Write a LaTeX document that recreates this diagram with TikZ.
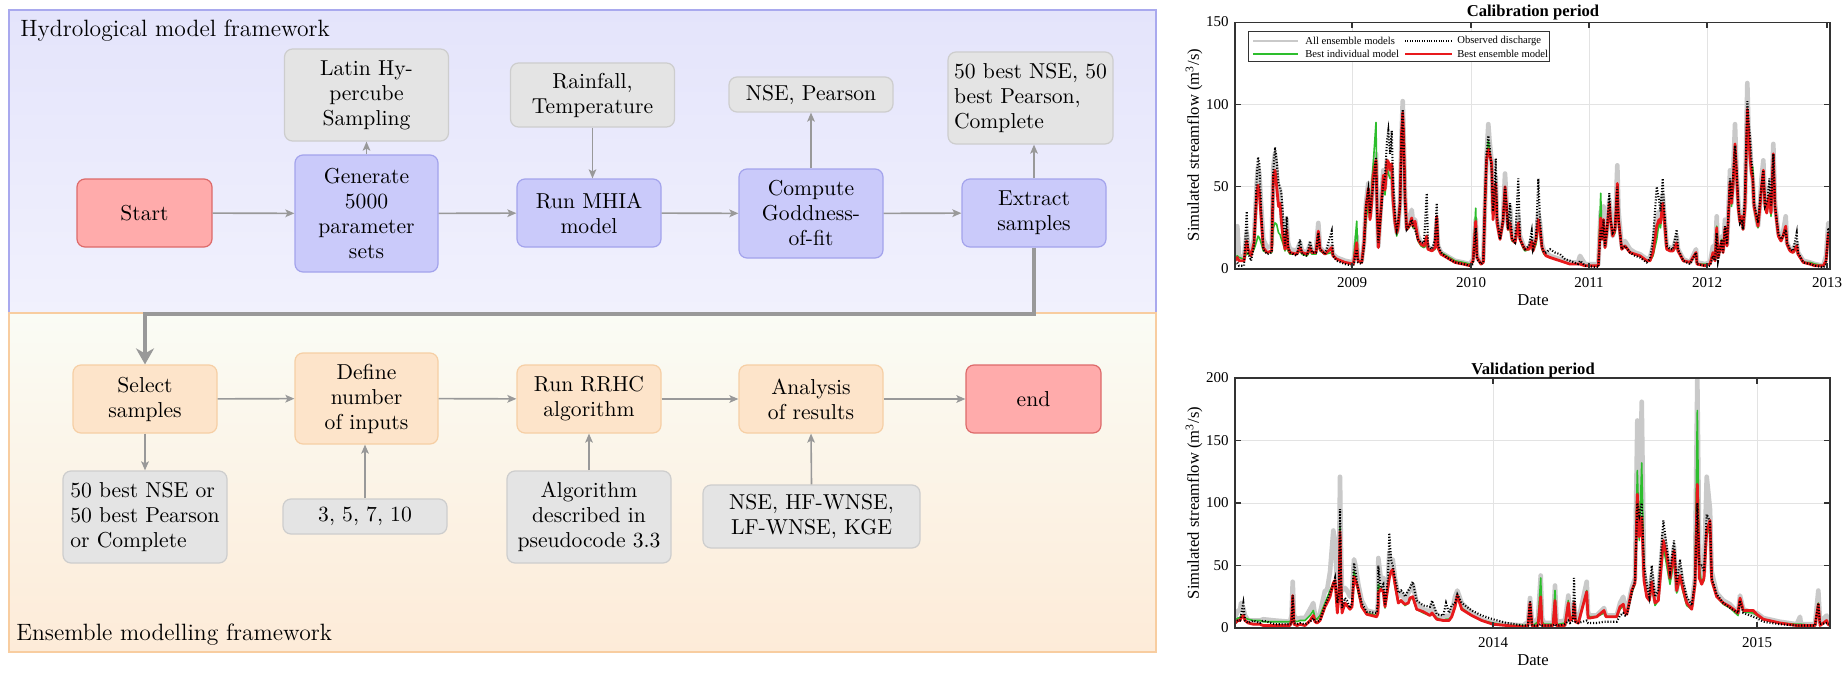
\documentclass[tikz,border=0pt]{standalone}
\usepackage{fontspec}
\newfontfamily\plotfont{Liberation Serif}
\usetikzlibrary{arrows.meta}
\definecolor{bluebgA}{HTML}{E4E4FB}
\definecolor{bluebgB}{HTML}{F1F1FD}
\definecolor{blueframe}{HTML}{A9A9EE}
\definecolor{blueboxf}{HTML}{CACAFA}
\definecolor{blueboxd}{HTML}{A3A3EC}
\definecolor{orbgA}{HTML}{FAFCF5}
\definecolor{orbgB}{HTML}{FDEBD8}
\definecolor{orframe}{HTML}{F8CDA0}
\definecolor{orboxf}{HTML}{FDE4CA}
\definecolor{orboxd}{HTML}{F6CFA5}
\definecolor{grayboxf}{HTML}{E4E4E4}
\definecolor{grayboxd}{HTML}{CDCDCD}
\definecolor{redboxf}{HTML}{FFABAB}
\definecolor{redboxd}{HTML}{DD6A6A}
\definecolor{arrgray}{HTML}{999999}
\definecolor{gridc}{HTML}{E3E3E3}
\definecolor{axc}{HTML}{333333}
\definecolor{ensc}{HTML}{C9C9C9}
\definecolor{greenc}{HTML}{2DBE2D}
\definecolor{redc}{HTML}{E8191C}

\def\caldata{0/8/3/7/5,2.3/26/4/8/7,4/8/2/7/5,9/7/2/6/5,11.7/22/35/10/17,13/15/10/9/12,16/10/5/8/8,19/18/14/12/16,21.7/52/55/17/45,23/62/68/20/51,24.3/58/64/19/47,26/40/38/16/32,28.3/18/12/11/13,32/13/9/10/10,36.7/14/10/10/11,38.3/62/60/25/56,40/70/74/28/60,41.7/58/65/27/50,43.5/42/52/22/38,45/48/50/21/40,46.5/33/45/18/28,48.3/22/30/15/18,50/15/14/11/12,51.7/30/32/14/24,53/16/14/11/13,55/12/10/9/10,61.7/11/8/9/9,65/16/18/11/13,67/11/9/9/10,72/10/8/8/9,75/15/17/11/13,77/10/10/9/10,81/12/10/9/10,83.3/28/22/20/23,85/13/12/11/12,90/10/9/9/9,96.7/14/23/10/13,98/9/8/8/8,101.7/7/5/6/6,110/5/3/4/4,118.3/4/2/3/3,121.7/20/12/29/16,123/6/4/5/5,126.7/5/3/4/4,129/16/14/14/16,131/40/38/30/38,133.3/52/48/40/49,135/32/34/30/30,136.7/45/44/50/40,138/55/50/62/56,141/70/68/89/66,142/40/38/36/38,143.3/14/16/13/13,145/30/28/25/28,148.3/60/52/55/57,150/50/56/45/48,152/66/78/62/66,153.3/62/84/58/65,155/58/70/55/60,156.7/62/84/56/64,158/45/55/40/42,160/30/32/27/28,161.7/22/24/20/22,163/25/28/24/25,165/40/38/37/40,166.5/80/80/75/82,167.7/102/97/94/95,168.7/80/75/78/80,170/45/40/42/44,171.7/25/24/24/24,174/28/26/25/26,176.7/36/30/29/31,178/28/26/25/26,180/30/24/26/29,183/20/18/17/18,186/16/16/14/15,189/14/16/13/14,191.7/16/46/15/20,193/13/14/12/12,197/12/12/11/11,200/14/18/12/13,201.7/30/40/27/32,203/14/15/12/13,206/10/10/10/9,211.7/8/7/8/7,220/5/4/5/4,228/4/3/4/3,235/3/2/3/2,238/6/3/4/5,240.7/30/25/37/29,242/8/6/7/7,246/4/3/3/3,248.3/6/4/4/4,250/40/42/38/40,251.5/68/70/66/66,253.3/88/81/78/73,254.5/78/75/72/70,256.7/65/60/62/64,258/35/35/30/30,259.5/48/45/40/42,260.7/56/67/52/52,262/30/32/28/28,265/20/18/18/18,268/30/30/28/29,270/58/50/48/50,271.5/40/38/38/38,273/26/24/24/24,275/38/40/24/28,277/20/18/17/18,280/18/16/16/16,283.3/32/55/25/28,285/20/18/18/18,288/15/14/13/14,290/12/12/11/12,294/13/14/12/12,296.7/18/23/15/17,298/12/12/11/11,301/20/18/15/18,303.3/34/55/26/30,305/28/30/22/24,307/15/13/12/13,309/11/10/9/10,311/10/10/8/8,315/8/12/7/7,320/7/10/6/6,325/6/9/5/5,330/5/6/4/4,335/4/5/3/3,343/4/3/3/3,345/8/5/3/3,350/3/2/2/2,363.3/3/1/2/2,365.7/35/25/46/31,367/20/18/18/18,368.5/38/30/28/30,370/14/14/13/13,372/24/24/22/24,374.3/42/46/38/40,375.5/35/30/30/30,377.7/20/22/20/20,380/25/24/22/24,382.3/63/50/50/52,383.5/35/30/30/30,386.7/14/12/12/12,390/17/14/14/14,395/12/10/10/10,400/10/8/9/9,405/9/7/8/8,411.7/6/4/5/5,415/7/6/5/5,418/14/18/8/10,421.7/30/50/18/26,424/35/42/28/30,425.5/30/35/25/28,427.7/45/55/38/40,429/35/38/30/32,431.7/14/14/12/12,435/13/12/11/11,438/12/12/11/11,441.7/20/24/14/16,443/12/12/11/11,448.3/6/5/5/5,455/4/3/4/4,461/12/10/10/10,462/4/3/3/3,470/3/2/3/2,475/4/2/3/3,478/14/8/10/10,480/6/5/5/5,481.7/32/22/26/25,483/8/5/7/7,486.7/20/18/18/17,488/12/10/10/10,490/30/26/25/25,492/15/15/14/14,495/60/55/50/53,496.5/40/42/38/40,498/55/55/50/50,500/88/75/70/76,501.5/60/62/55/58,503.3/40/40/35/37,505/30/28/28/28,506.7/35/30/30/32,508/25/24/24/24,510/40/45/38/38,512.3/113/102/95/97,513.5/85/90/82/84,515/75/80/66/68,516.5/60/65/60/58,517.7/55/58/62/55,519/40/40/38/38,521.7/30/32/28/30,523/26/28/25/26,525/40/42/38/38,526.5/55/50/50/50,528.3/66/60/58/60,530/40/38/36/38,531.7/38/40/34/34,533/42/45/40/40,534.3/50/55/45/45,536/35/38/32/34,538.3/76/70/68/70,540/40/38/36/38,543.3/22/22/20/20,546/18/18/17/17,548/22/20/20/20,550.7/32/24/26/26,552/16/16/15/15,555/12/12/11/11,558/12/11/10/10,561.7/16/22/12/14,563/10/10/9/9,568.3/5/4/4/4,575/4/3/4/3,580/3/2/3/2,588.3/2/1/2/2,591/8/3/4/5,593.3/28/25/22/22,595/25/22/20/20}

\def\valdata{0/8/4/6/4,3/14/6/8/6,5/14/6/8/6,6/20/10/10/8,8.3/16/20/9/10,10/10/6/8/6,13.3/6/4/7/4,18.3/6/6/6/3,25/6/4/6/3,28.3/7/6/5/2,40/6/3/5/2,55/5/3/5/2,56.5/10/3/8/6,57.7/37/26/24/26,59/10/4/6/3,62/7/3/5/2,65/8/4/6/3,70/8/3/6/2,75/15/5/10/6,78.3/20/8/14/10,80/10/5/8/5,82/8/5/7/4,85/12/6/10/6,90/30/18/20/17,92/30/22/24/20,95/45/28/30/25,98.3/78/35/36/36,100/70/40/38/38,102.3/30/20/18/12,104/45/28/28/26,105/121/95/80/77,106/60/40/40/35,107/30/16/18/12,110/32/24/18/20,112/30/22/18/18,115/25/16/16/15,117/28/20/18/17,119/55/52/45/41,120.5/50/45/40/38,123.3/35/30/28/31,126.7/22/20/17/17,131.7/14/13/12/11,141.7/12/12/10/9,143/20/22/14/12,143.3/56/50/35/28,145.7/40/32/30/31,148.3/40/35/30/29,150/22/18/16/17,153/40/40/32/33,154.3/60/76/42/40,156/50/55/45/45,157.7/55/50/47/47,160/40/40/33/35,163.3/25/28/20/20,166/28/30/22/22,168.3/25/28/20/20,170/22/25/18/19,173.3/28/30/20/20,175/30/32/23/24,177.7/35/37/24/25,181.7/20/22/15/15,188.3/15/18/12/13,195/13/17/10/10,197/18/22/12/12,201.7/10/11/8/7,208.3/8/10/6/6,211/10/20/7/6,214/9/12/7/6,216.7/12/18/9/9,220/25/20/18/17,222.3/30/27/26/26,226.7/20/20/16/15,236.7/12/14/10/10,246.7/7/10/6/6,258/4/7/4/3,271.7/3/4/2/2,288.3/2/2/2/1,293/5/2/2/2,295/24/22/18/20,297/5/2/2/2,298.3/3/2/2/1,303/8/2/5/2,305.7/42/3/40/25,307/8/2/5/2,309/4/2/3/2,318/4/2/3/2,320/34/3/30/22,321.5/6/2/3/2,323.3/5/2/3/2,330/6/3/4/2,333.3/26/6/22/20,335/10/4/8/6,338/12/6/10/8,339/20/40/14/20,340.5/8/5/6/5,343.3/6/4/5/4,351.7/37/6/30/29,353/12/4/10/8,355/10/4/9/8,361.7/10/4/9/9,369/16/5/12/14,371/10/5/9/9,381.7/10/5/9/9,385/20/10/15/17,388.3/25/12/18/19,390/15/10/12/12,391.7/13/10/11/11,396.7/32/28/28/30,400/40/38/35/36,402.3/166/100/126/107,404.3/75/90/70/73,406.7/181/100/132/89,409/45/50/40/38,411.7/30/35/25/25,414.3/25/25/22/22,416.7/42/50/34/37,420/22/25/18/20,423.3/28/30/22/22,428.3/75/86/65/70,431.7/60/65/50/58,435/40/45/35/40,439/65/70/55/62,441.7/30/35/28/30,445/48/55/40/42,447.7/35/38/30/32,451.7/22/25/18/20,456.7/18/18/15/15,460/40/38/35/35,462.3/200/100/174/115,464.3/55/50/48/40,466.7/40/50/35/35,469/45/45/38/40,471.7/121/91/80/78,475/95/85/75/86,476.7/45/40/38/38,481.7/28/27/25/25,488.3/22/20/19/20,495/19/16/16/17,503/12/12/10/12,505/26/22/22/24,508.3/15/12/13/14,518.3/12/9/12/14,521.7/12/8/10/11,528.3/8/5/7/7,545/5/3/4/4,561.7/3/2/3/2,565/9/2/3/2,566/3/2/3/2,580/3/2/2/2,583.3/30/20/20/19,585/5/3/3/2,591.7/10/4/5/6,593/5/4/3/3,595/3/3/2/2}

\tikzset{
  fbox/.style={rounded corners=4pt, line width=0.6pt, align=center, inner sep=2pt},
  bluebx/.style={fbox, fill=blueboxf, draw=blueboxd},
  orbx/.style={fbox, fill=orboxf, draw=orboxd},
  graybx/.style={fbox, fill=grayboxf, draw=grayboxd},
  redbx/.style={fbox, fill=redboxf, draw=redboxd},
  sz/.style 2 args={minimum width=#1, minimum height=#2},
  arr/.style={draw=arrgray, line width=0.8pt, -{Stealth[length=4.5pt,width=3.8pt,inset=1pt]}},
  bigarr/.style={draw=arrgray, line width=2.3pt, -{Stealth[length=8pt,width=9pt,inset=2.5pt]}},
  ensline/.style={draw=ensc, line width=2.3pt, line join=round},
  grline/.style={draw=greenc, line width=0.8pt, line join=round},
  rdline/.style={draw=redc, line width=1.4pt, line join=round},
  obsline/.style={draw=black, line width=1.05pt, dash pattern=on 0.55pt off 0.9pt},
  gridline/.style={draw=gridc, line width=0.5pt},
  axline/.style={draw=axc, line width=0.55pt},
  ticklab/.style={font=\plotfont\fontsize{7.5}{8}\selectfont, inner sep=0pt},
  axlab/.style={font=\plotfont\fontsize{8.3}{9}\selectfont, inner sep=0pt},
  ptitle/.style={font=\plotfont\bfseries\fontsize{8.3}{9}\selectfont, inner sep=0pt},
  legtext/.style={font=\plotfont\fontsize{5.3}{6}\selectfont, inner sep=0pt, anchor=west},
  frtitle/.style={font=\fontsize{11.8}{14}\selectfont, inner sep=0pt, anchor=base west}
}

\begin{document}
\begin{tikzpicture}[x=0.5pt, y=-0.5pt, font=\fontsize{10.8}{12.5}\selectfont]
\useasboundingbox (0,0) rectangle (1846,674);
\fill[white] (0,0) rectangle (1846,674);

% ---------- frames ----------
\shade[top color=bluebgA, bottom color=bluebgB] (9,10) rectangle (1156,313);
\draw[blueframe, line width=0.8pt] (9,10) rectangle (1156,313);
\shade[top color=orbgA, bottom color=orbgB] (9,313) rectangle (1156,652);
\draw[orframe, line width=0.8pt] (9,313) rectangle (1156,652);
\node[frtitle] (t1) at (20,37) {Hydrological model framework};
\node[frtitle] (t2) at (16,640) {Ensemble modelling framework};

% ---------- top row ----------
\node[redbx, sz={67.5pt}{34pt}] (start) at (144.5,213) {Start};
\node[bluebx, sz={71.5pt}{58.5pt}] (gen) at (366.5,213.5) {Generate\\5000\\parameter\\sets};
\node[graybx, sz={82pt}{46pt}] (lhs) at (366.5,95) {Latin Hy-\\percube\\Sampling};
\node[bluebx, sz={72pt}{34pt}] (mhia) at (589,213) {Run MHIA\\model};
\node[graybx, sz={82pt}{32pt}] (rain) at (592.5,95) {Rainfall,\\Temperature};
\node[bluebx, sz={72pt}{44.5pt}] (gof) at (811,213.5) {Compute\\Goddness-\\of-fit};
\node[graybx, sz={82pt}{17.5pt}] (nsep) at (811,94.5) {NSE, Pearson};
\node[bluebx, sz={72pt}{34pt}] (extr) at (1034,213) {Extract\\samples};
\node[graybx, sz={82.5pt}{46pt}, align=left] (best) at (1030.5,98) {50 best NSE, 50\\best Pearson,\\Complete};

% ---------- bottom row ----------
\node[orbx, sz={72pt}{34pt}] (sel) at (145,399) {Select\\samples};
\node[orbx, sz={71.5pt}{45.5pt}] (def) at (366.5,398.5) {Define\\number\\of inputs};
\node[orbx, sz={72pt}{34pt}] (rrhc) at (589,399) {Run RRHC\\algorithm};
\node[orbx, sz={72pt}{34pt}] (ana) at (811,399) {Analysis\\of results};
\node[redbx, sz={67.5pt}{34pt}] (end) at (1033.5,399) {end};
\node[graybx, sz={82pt}{46pt}, align=left] (opts) at (145,517) {50 best NSE or\\50 best Pearson\\or Complete};
\node[graybx, sz={82pt}{17.5pt}] (nin) at (365,516.5) {3, 5, 7, 10};
\node[graybx, sz={82pt}{46pt}] (algo) at (589,517) {Algorithm\\described in\\pseudocode 3.3};
\node[graybx, sz={108.5pt}{31.5pt}] (crit) at (811.5,516.5) {NSE, HF-WNSE,\\LF-WNSE, KGE};

% ---------- connectors ----------
\draw[arr] (start) -- (gen);
\draw[arr] (gen) -- (mhia);
\draw[arr] (mhia) -- (gof);
\draw[arr] (gof) -- (extr);
\draw[arr] (gen.north) -- (lhs.south);
\draw[arr] (rain.south) -- (rain.south |- mhia.north);
\draw[arr] (gof.north) -- (nsep.south);
\draw[arr] (extr.north) -- (extr.north |- best.south);
\coordinate (bend) at (1034,314);
\draw[bigarr] (extr.south) -- (bend) -| (sel.north);
\draw[arr] (sel) -- (def);
\draw[arr] (def) -- (rrhc);
\draw[arr] (rrhc) -- (ana);
\draw[arr] (ana) -- (end);
\draw[arr] (sel.south) -- (sel.south |- opts.north);
\draw[arr] (nin.north) -- (nin.north |- def.south);
\draw[arr] (algo.north) -- (rrhc.south);
\draw[arr] (crit.north) -- (ana.south);

% ---------- calibration plot ----------
\coordinate (c0) at (1235,269);
\begin{scope}[shift={(c0)}, x=0.5pt, y=0.823pt]
  \foreach \gx in {117,236,354,472} \draw[gridline] (\gx,0) -- (\gx,150);
  \foreach \gy in {50,100} \draw[gridline] (0,\gy) -- (595,\gy);
  \begin{scope}
    \clip (0,0) rectangle (595,150);
    \draw[ensline] (0,8) \foreach \pa/\pb/\pc/\pd/\pe in \caldata { -- (\pa,\pb) };
    \draw[grline] (0,7) \foreach \pa/\pb/\pc/\pd/\pe in \caldata { -- (\pa,\pd) };
    \draw[rdline] (0,5) \foreach \pa/\pb/\pc/\pd/\pe in \caldata { -- (\pa,\pe) };
    \draw[obsline] (0,3) \foreach \pa/\pb/\pc/\pd/\pe in \caldata { -- (\pa,\pc) };
  \end{scope}
  \draw[axline] (0,0) rectangle (595,150);
  \foreach \gx in {117,236,354,472,592} {
    \draw[axline] (\gx,0) -- (\gx,3.5);
    \draw[axline] (\gx,150) -- (\gx,146.5);
  }
  \foreach \gy in {50,100,150} {
    \draw[axline] (0,\gy) -- (6,\gy);
    \draw[axline] (595,\gy) -- (589,\gy);
  }
  % legend
  \draw[axc, fill=white, line width=0.5pt] (13,144) rectangle (314,125.8);
  \draw[ensc, line width=1.2pt] (18,138.5) -- (63,138.5);
  \draw[greenc, line width=0.6pt] (18,130.6) -- (63,130.6);
  \draw[black, line width=0.9pt, dash pattern=on 0.5pt off 0.7pt] (170,138.5) -- (217,138.5);
  \draw[redc, line width=0.7pt] (170,130.6) -- (217,130.6);
  \node[legtext] (l1) at (70,138.5) {All ensemble models};
  \node[legtext] (l2) at (70,130.6) {Best individual model};
  \node[legtext] (l3) at (222,138.5) {Observed discharge};
  \node[legtext] (l4) at (222,130.6) {Best ensemble model};
\end{scope}
\node[ticklab, anchor=east] (cy0) at (1229,269) {0};
\node[ticklab, anchor=east] (cy1) at (1229,186.7) {50};
\node[ticklab, anchor=east] (cy2) at (1229,104.4) {100};
\node[ticklab, anchor=east] (cy3) at (1229,22) {150};
\node[ticklab, anchor=north] (cx1) at (1352,277) {2009};
\node[ticklab, anchor=north] (cx2) at (1471,277) {2010};
\node[ticklab, anchor=north] (cx3) at (1589,277) {2011};
\node[ticklab, anchor=north] (cx4) at (1707,277) {2012};
\node[ticklab, anchor=north] (cx5) at (1827,277) {2013};
\node[axlab, anchor=north] (cdate) at (1533,294) {Date};
\node[axlab, rotate=90] (cyl) at (1194,145) {Simulated streamflow (m\textsuperscript{3}/s)};
\node[ptitle, anchor=base] (ctit) at (1533,17) {Calibration period};

% ---------- validation plot ----------
\coordinate (v0) at (1235,628);
\begin{scope}[shift={(v0)}, x=0.5pt, y=0.625pt]
  \foreach \gx in {258,522} \draw[gridline] (\gx,0) -- (\gx,200);
  \foreach \gy in {50,100,150} \draw[gridline] (0,\gy) -- (595,\gy);
  \begin{scope}
    \clip (0,0) rectangle (595,200);
    \draw[ensline] (0,8) \foreach \pa/\pb/\pc/\pd/\pe in \valdata { -- (\pa,\pb) };
    \draw[grline] (0,6) \foreach \pa/\pb/\pc/\pd/\pe in \valdata { -- (\pa,\pd) };
    \draw[rdline] (0,4) \foreach \pa/\pb/\pc/\pd/\pe in \valdata { -- (\pa,\pe) };
    \draw[obsline] (0,4) \foreach \pa/\pb/\pc/\pd/\pe in \valdata { -- (\pa,\pc) };
  \end{scope}
  \draw[axline] (0,0) rectangle (595,200);
  \foreach \gx in {258,522} {
    \draw[axline] (\gx,0) -- (\gx,4.5);
    \draw[axline] (\gx,200) -- (\gx,195.5);
  }
  \foreach \gy in {50,100,150} {
    \draw[axline] (0,\gy) -- (6,\gy);
    \draw[axline] (595,\gy) -- (589,\gy);
  }
\end{scope}
\node[ticklab, anchor=east] (vy0) at (1229,628) {0};
\node[ticklab, anchor=east] (vy1) at (1229,565.5) {50};
\node[ticklab, anchor=east] (vy2) at (1229,503) {100};
\node[ticklab, anchor=east] (vy3) at (1229,440.5) {150};
\node[ticklab, anchor=east] (vy4) at (1229,378) {200};
\node[ticklab, anchor=north] (vx1) at (1493,637) {2014};
\node[ticklab, anchor=north] (vx2) at (1757,637) {2015};
\node[axlab, anchor=north] (vdate) at (1533,654) {Date};
\node[axlab, rotate=90] (vyl) at (1194,503) {Simulated streamflow (m\textsuperscript{3}/s)};
\node[ptitle, anchor=base] (vtit) at (1533,374) {Validation period};
\end{tikzpicture}
\end{document}
